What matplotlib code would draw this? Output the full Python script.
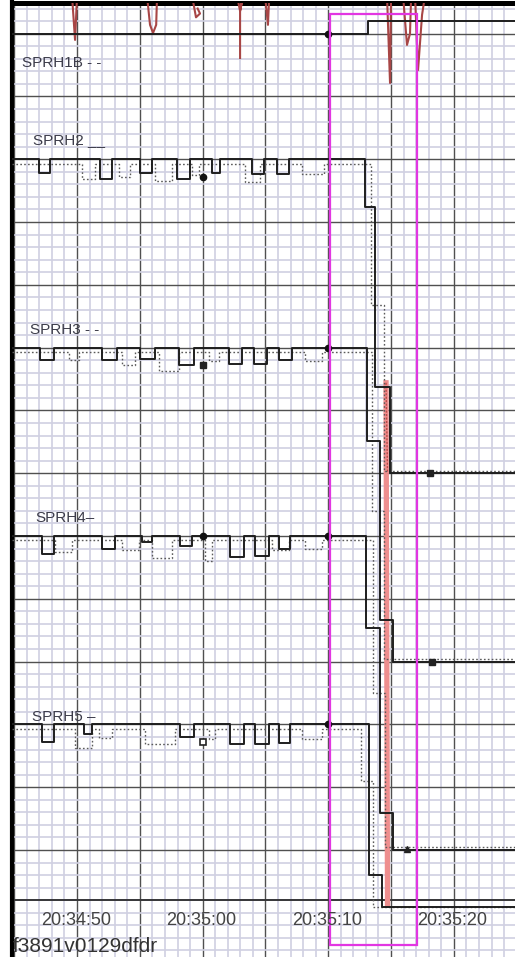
#!/usr/bin/env python3
"""Strip chart of SPRH1B..SPRH5 pens around 20:35:10 (recreated from a scan)."""

import matplotlib
matplotlib.use('Agg')
import matplotlib.pyplot as plt
from matplotlib.patches import Rectangle
from matplotlib.ticker import MultipleLocator

plt.rcParams['font.family'] = ['Liberation Sans', 'DejaVu Sans']

# x: seconds after 20:34:00, y: chart divisions (one minor square = 1)
t_min, t_max = 44.82, 84.87
v_min, v_max = -8.52, 67.48

tick_t = [50, 60, 70, 80]
tick_labels = ['20:34:50', '20:35:00', '20:35:10', '20:35:20']

names = ['SPRH1B - -', 'SPRH2 __', 'SPRH3 - -', 'SPRH4\u2013', 'SPRH5 \u2013']
name_t = [45.62, 46.5, 46.26, 46.66, 46.4]
name_v = [62.7, 56.5, 41.4, 26.4, 10.6]

# SPRH1B: flat, one step up after the event
h1_t = [44.82, 73.17, 73.17, 84.87]
h1_v = [65.0, 65.0, 66.0, 66.0]

# baselines of SPRH2..5 and their (start, end, depth) dips
base = [55, 40, 25, 10]
solid_dips = [
    [(46.97, 47.85, 1.1), (51.83, 52.79, 1.6), (55.02, 55.97, 1.1), (57.96, 59.0, 1.6),
     (60.75, 61.39, 1.1), (63.93, 64.89, 1.2), (65.92, 66.88, 1.2)],
    [(47.05, 48.17, 1.0), (51.99, 53.18, 1.0), (55.02, 56.21, 0.9), (58.12, 59.32, 1.4),
     (62.1, 63.14, 1.3), (64.09, 65.13, 1.3), (66.08, 67.12, 1.0)],
    [(47.2, 48.17, 1.4), (51.99, 53.03, 1.0), (55.18, 55.97, 0.5), (58.2, 59.16, 0.8),
     (62.18, 63.3, 1.7), (64.17, 65.29, 1.6), (66.08, 66.96, 1.0)],
    [(47.2, 48.17, 1.4), (50.56, 51.19, 0.8), (58.2, 59.32, 1.0), (62.18, 63.3, 1.6),
     (64.17, 65.29, 1.6), (66.08, 66.96, 1.5)],
]
dotted_dips = [
    [(50.4, 51.43, 1.2), (53.34, 54.22, 1.1), (56.21, 57.56, 1.4), (59.16, 59.71, 0.9),
     (63.38, 64.57, 1.5), (67.91, 69.67, 0.8)],
    [(49.36, 50.16, 0.6), (53.58, 54.62, 1.0), (56.53, 58.12, 1.5), (60.5, 61.3, 0.7),
     (68.15, 69.5, 0.7)],
    [(48.25, 49.6, 0.9), (53.58, 54.94, 0.8), (55.97, 57.56, 1.4), (60.19, 60.75, 1.6),
     (65.53, 66.88, 0.8), (68.15, 69.5, 0.65)],
    [(49.84, 51.19, 1.5), (51.75, 52.79, 0.7), (55.41, 57.8, 1.2), (60.5, 60.99, 0.8),
     (67.91, 69.5, 0.84)],
]
# the fall after the event: (time, new level)
solid_drop = [
    [(72.93, 51.2), (73.73, 36.9), (74.92, 30.0)],
    [(73.1, 32.6), (74.12, 18.3), (75.16, 15.0)],
    [(73.0, 17.7), (74.12, 2.95), (75.16, 0.0)],
    [(73.25, -2.0), (74.28, -4.5)],
]
dotted_drop = [
    [(73.4, 43.4), (74.4, 30.2)],
    [(73.5, 27.0), (74.45, 15.2)],
    [(73.55, 12.5), (74.5, 0.2)],
    [(72.6, 5.5), (73.6, -4.5)],
]

# red pen: spikes at the top and the fall line
red_spikes = [
    ([49.6, 49.84, 50.0], [68.0, 64.5, 68.0]),
    ([55.57, 55.81, 56.05, 56.3, 56.37], [68.0, 65.7, 65.05, 65.7, 68.0]),
    ([59.16, 59.47, 59.79, 59.6], [68.0, 66.3, 66.6, 67.0]),
    ([62.74, 62.98, 63.22, 62.98, 62.98], [68.0, 66.8, 68.0, 66.8, 63.06]),
    ([64.97, 65.2, 65.3], [68.0, 65.7, 68.0]),
    ([74.68, 74.92, 75.0], [68.0, 61.07, 68.0]),
    ([75.96, 76.27, 76.51, 76.6], [68.0, 64.1, 65.0, 68.0]),
    ([76.91, 77.15, 77.47, 77.7], [68.0, 62.1, 66.5, 68.0]),
]
red_fall_t = [74.6, 74.72]
red_fall_v = [37.2, -4.4]

dots_t = [70.0, 60.0, 70.0, 60.0, 70.0, 70.0]
dots_v = [65.0, 53.6, 40.0, 25.0, 25.0, 10.0]
squares_t = [60.0, 78.1, 78.26]
squares_v = [38.6, 30.0, 15.0]
open_sq_t, open_sq_v = [60.0], [8.6]
tri_t, tri_v = [76.27], [0.1]

box_t = [70.14, 77.07]
box_v = [-7.56, 66.56]
axis_line_v = -4.0
code_text = 'f3891v0129dfdr'


def pen(b, dips, drop, t0=t_min, t1=t_max):
    ts, vs = [t0], [b]
    for a, e, d in dips:
        ts += [a, a, e, e]
        vs += [b, b - d, b - d, b]
    for t, v in drop:
        ts += [t, t]
        vs += [vs[-1], v]
    ts.append(t1)
    vs.append(vs[-1])
    return ts, vs


fig = plt.figure(figsize=(5.15, 9.57), dpi=100)
ax = fig.add_axes([12 / 515, 0, 503 / 515, 954.5 / 957])
ax.set_xlim(t_min, t_max)
ax.set_ylim(v_min, v_max)

ax.set_xticks(range(45, 85, 5))
ax.xaxis.set_minor_locator(MultipleLocator(1))
ax.set_yticks(range(0, 70, 5))
ax.set_yticks(range(-8, 68), minor=True)
ax.tick_params(which='both', length=0, labelbottom=False, labelleft=False)
ax.grid(which='minor', color='#d0d0e2', lw=1.2)
ax.grid(which='major', color='#505050', lw=1.0)
ax.set_axisbelow(True)
for s in ['right', 'bottom']:
    ax.spines[s].set_visible(False)
ax.spines['left'].set_linewidth(3.0)
ax.spines['top'].set_linewidth(3.6)

ax.axhline(axis_line_v, color='#2a2a2a', lw=1.3, zorder=2)

# red pen first so the black pens sit on top
for ts, vs in red_spikes:
    ax.plot(ts, vs, color='#a84646', lw=1.5, zorder=3)
ax.plot(red_fall_t, red_fall_v, color='#ee8e8e', lw=3.8, zorder=3)
ax.plot(red_fall_t, [red_fall_v[0], 30.0], color='#c04848', lw=1.0,
        ls=(0, (1.5, 1.0)), zorder=3)

ax.plot(h1_t, h1_v, color='#1e1e1e', lw=1.4, zorder=4)
for b, sd, dd, sdr, ddr in zip(base, solid_dips, dotted_dips, solid_drop, dotted_drop):
    ts, vs = pen(b - 0.35, dd, ddr)
    ax.plot(ts, vs, color='#5a5a5a', lw=1.0, ls=(0, (1.2, 1.6)), zorder=4)
    ts, vs = pen(b, sd, sdr)
    ax.plot(ts, vs, color='#1e1e1e', lw=1.4, zorder=5)

ax.plot(dots_t, dots_v, 'o', color='#111111', ms=4.5, zorder=6)
ax.plot(squares_t, squares_v, 's', color='#222222', ms=5, zorder=6)
ax.plot(open_sq_t, open_sq_v, 's', mfc='white', mec='#222222', mew=1.2, ms=5, zorder=6)
ax.plot(tri_t, tri_v, '^', color='#222222', ms=5, zorder=6)

ax.add_patch(Rectangle((box_t[0], box_v[0]), box_t[1] - box_t[0], box_v[1] - box_v[0],
                       fill=False, ec='#e236e2', lw=1.6, zorder=7))

for n, tx, vy in zip(names, name_t, name_v):
    ax.text(tx, vy, n, fontsize=11, color='#3c3c4a', ha='left', va='center', zorder=8)
for tx, lab in zip(tick_t, tick_labels):
    ax.text(tx - 0.1, -5.6, lab, fontsize=13, color='#444444', ha='center', va='center', zorder=8)
ax.text(t_min + 0.05, -8.45, code_text, fontsize=15, color='#333333', ha='left',
        va='bottom', zorder=8)

fig.savefig('out.png', dpi=100)
